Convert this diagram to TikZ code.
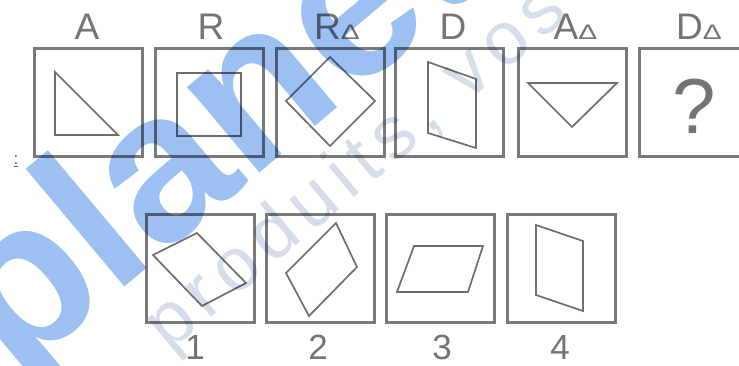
\documentclass[tikz,border=0pt]{standalone}
\usepackage{fontspec}
\setmainfont{Liberation Sans}
\newfontfamily\wmfont{Liberation Sans Bold}
\newfontfamily\wmthinfont{Liberation Sans}[LetterSpace=12]
\definecolor{boxgray}{HTML}{7A7A7A}
\definecolor{shapegray}{HTML}{6E6E6E}
\definecolor{labgray}{HTML}{747474}
\definecolor{wmblue}{RGB}{60,130,230}
\definecolor{wmthin}{RGB}{110,140,190}
\newcommand\mydelta{{\fontsize{21}{21}\selectfont\scalebox{1.35}[1]{Δ}}}
\begin{document}
\begin{tikzpicture}[x=1pt,y=-1pt,
 panel/.style={draw=boxgray,line width=3pt,minimum width=108pt,minimum height=108pt,inner sep=0pt},
 fig/.style={draw=shapegray,line width=1.7pt,line join=miter},
 lab/.style={text=labgray,font=\fontsize{37}{37}\selectfont,anchor=base,inner sep=0pt},
 num/.style={text=labgray,font=\fontsize{35}{35}\selectfont,anchor=base,inner sep=0pt},
]
\useasboundingbox (0,0) rectangle (739,365);
\clip (0,0) rectangle (739,365);
\fill[white] (0,0) rectangle (739,365);
% top row panels
\node[panel] (pA)  at (88.5,102.5) {};
\node[panel] (pR)  at (209,102.5) {};
\node[panel] (pRd) at (330,102.5) {};
\node[panel] (pD)  at (449.5,102.5) {};
\node[panel] (pAd) at (572.5,102.5) {};
\node[panel] (pDd) at (693.5,102.5) {};
% labels
\node[lab] (lA)  at (87,39) {A};
\node[lab] (lR)  at (211,39) {R};
\node[lab] (lRd) at (337,39) {R\mydelta};
\node[lab] (lD)  at (453,39) {D};
\node[lab] (lAd) at (575.5,39) {A\mydelta};
\node[lab] (lDd) at (699,39) {D\mydelta};
% figures top
\draw[fig] (55,72) -- (55,135) -- (118,135) -- cycle;
\draw[fig] (177,73) rectangle (241,136);
\draw[fig] (330,57) -- (375,101) -- (330,146) -- (286,101) -- cycle;
\draw[fig] (428,62) -- (476,79) -- (476,148) -- (428,133) -- cycle;
\draw[fig] (528,83) -- (617,83) -- (572,127) -- cycle;
\node[text=labgray,font=\fontsize{78}{78}\selectfont,anchor=base,inner sep=0pt] (qm) at (694,133) {?};
% bottom row
\node[panel] (p1) at (200,268) {};
\node[panel] (p2) at (320,268) {};
\node[panel] (p3) at (440.5,268) {};
\node[panel] (p4) at (561.5,268) {};
\draw[fig] (153,255) -- (197,233) -- (246,283) -- (202,306) -- cycle;
\draw[fig] (336,223) -- (357,267) -- (309,316) -- (286,273) -- cycle;
\draw[fig] (414,246) -- (483,246) -- (468,292) -- (397,292) -- cycle;
\draw[fig] (536,225) -- (583,241) -- (583,311) -- (536,295) -- cycle;
\node[num] (n1) at (195,359) {1};
\node[num] (n2) at (318,359) {2};
\node[num] (n3) at (442,359) {3};
\node[num] (n4) at (560,359) {4};
% small colon mark
\node[text=labgray!70!blue,font=\fontsize{17}{17}\selectfont,inner sep=0pt] (colon) at (16,161) {\underline{:}};
% watermark
\begin{scope}[blend mode=multiply]
\node[rotate=40,anchor=base west,text=wmblue,opacity=0.5,inner sep=0pt,font=\wmfont\fontsize{212}{212}\selectfont] (wm) at (14,380) {planete};
\node[rotate=40,anchor=base west,text=wmthin,opacity=0.28,inner sep=0pt,font=\wmthinfont\fontsize{75}{75}\selectfont] (wm2) at (169,353) {produits, vos};
\end{scope}
\end{tikzpicture}
\end{document}
